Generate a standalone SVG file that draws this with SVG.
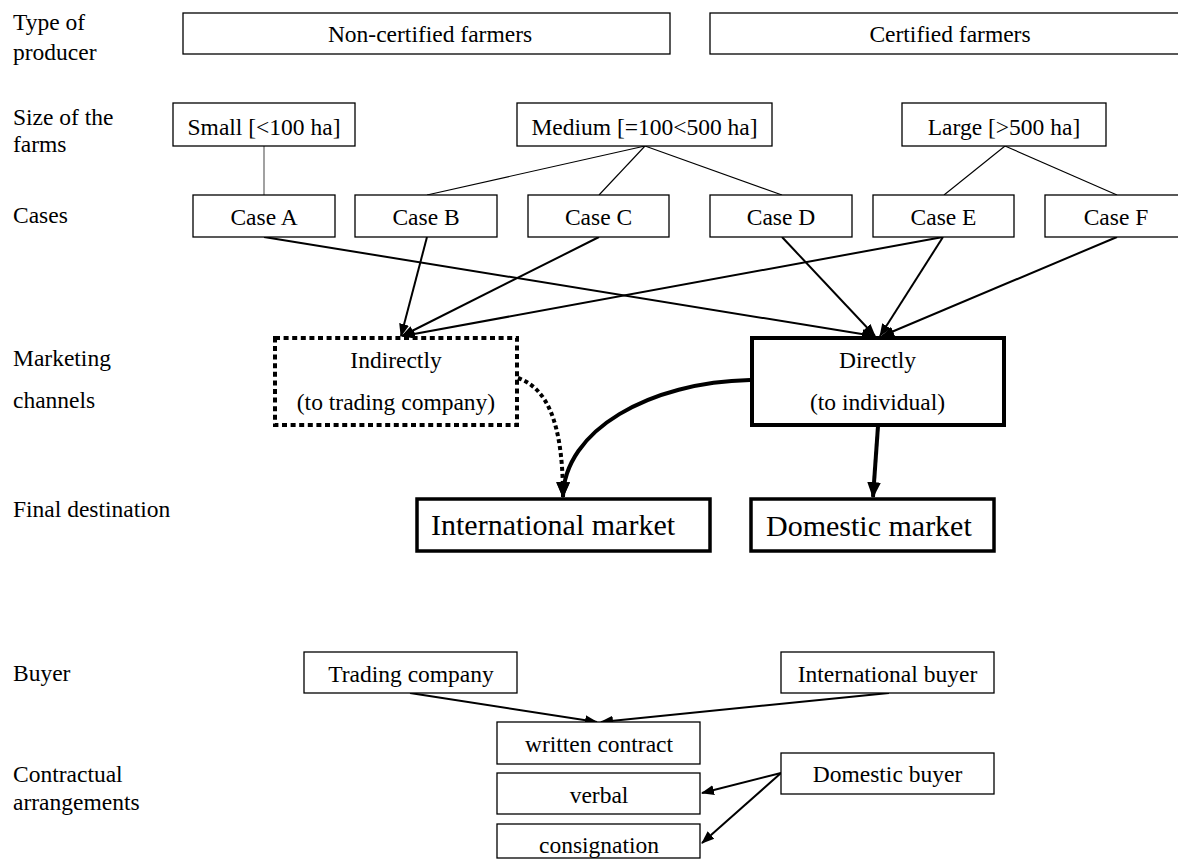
<svg xmlns="http://www.w3.org/2000/svg" width="1178" height="861" viewBox="0 0 1178 861">
<style>
text{font-family:"Liberation Serif","Times New Roman",serif;font-size:23.5px;fill:#000}
.c{text-anchor:middle}
.big{font-size:30px}
.box{fill:#fff;stroke:#000;stroke-width:1.3}
.thick{fill:#fff;stroke:#000;stroke-width:4}
.dot{fill:#fff;stroke:#000;stroke-width:4;stroke-dasharray:5 3.6}
.tree{fill:none;stroke:#000;stroke-width:1.1}
.arr{fill:none;stroke:#000;stroke-width:2;marker-end:url(#ah)}
.arrb{fill:none;stroke:#000;stroke-width:4;marker-end:url(#ahb)}
</style>
<defs>
<marker id="ah" markerUnits="userSpaceOnUse" markerWidth="14" markerHeight="12" refX="12" refY="5" orient="auto" viewBox="0 0 14 10">
<path d="M0,0 L13,5 L0,10 z" fill="#000"/>
</marker>
<marker id="ahb" markerUnits="userSpaceOnUse" markerWidth="16" markerHeight="14" refX="13" refY="6" orient="auto" viewBox="0 0 14 12">
<path d="M0,0 L14,6 L0,12 z" fill="#000"/>
</marker>
</defs>
<rect width="1178" height="861" fill="#fff"/>

<g id="row-labels">
<text x="13" y="30">Type of</text>
<text x="13" y="60">producer</text>
<text x="13" y="125">Size of the</text>
<text x="13" y="152">farms</text>
<text x="13" y="223">Cases</text>
<text x="13" y="366">Marketing</text>
<text x="13" y="408">channels</text>
<text x="13" y="517">Final destination</text>
<text x="13" y="681">Buyer</text>
<text x="13" y="782">Contractual</text>
<text x="13" y="810">arrangements</text>
</g>

<g id="connectors">
<line class="tree" x1="264" y1="146" x2="264" y2="195" stroke="#555" style="stroke:#555"/>
<line class="tree" x1="645" y1="146" x2="427" y2="195"/>
<line class="tree" x1="645" y1="146" x2="599" y2="195"/>
<line class="tree" x1="645" y1="146" x2="782" y2="195"/>
<line class="tree" x1="1005" y1="146" x2="944" y2="195"/>
<line class="tree" x1="1005" y1="146" x2="1117" y2="195"/>
<line class="arr" x1="264" y1="237" x2="874" y2="336"/>
<line class="arr" x1="427" y1="237" x2="401" y2="336"/>
<line class="arr" x1="599" y1="237" x2="402" y2="336"/>
<line class="arr" x1="943" y1="237" x2="403" y2="336"/>
<line class="arr" x1="782" y1="237" x2="875" y2="336"/>
<line class="arr" x1="943" y1="237" x2="880" y2="336"/>
<line class="arr" x1="1117" y1="237" x2="882" y2="336"/>
<path d="M518,378 C546,388 563,420 563,497" fill="none" stroke="#000" stroke-width="4" stroke-dasharray="4 3" marker-end="url(#ahb)"/>
<path class="arrb" d="M750,380 C650,382 564,430 563,497"/>
<line class="arrb" x1="878" y1="426" x2="873" y2="497"/>
<line class="arr" x1="410" y1="693" x2="597" y2="722"/>
<line class="arr" x1="889" y1="693" x2="601" y2="722"/>
<line class="arr" x1="781" y1="773" x2="702" y2="793"/>
<line class="arr" x1="781" y1="773" x2="702" y2="843"/>
</g>

<g id="non-certified"><rect class="box" x="183" y="13" width="487" height="41"/><text class="c" x="430" y="42">Non-certified farmers</text></g>
<g id="certified"><rect class="box" x="710" y="13" width="480" height="41"/><text class="c" x="950" y="42">Certified farmers</text></g>

<g id="small"><rect class="box" x="173" y="103" width="182" height="43"/><text class="c" x="264" y="135">Small [&lt;100 ha]</text></g>
<g id="medium"><rect class="box" x="517" y="103" width="255" height="43"/><text class="c" x="644.5" y="135">Medium [=100&lt;500 ha]</text></g>
<g id="large"><rect class="box" x="902" y="103" width="204" height="43"/><text class="c" x="1004" y="135">Large [&gt;500 ha]</text></g>

<g id="case-a"><rect class="box" x="193" y="195" width="142" height="42"/><text class="c" x="264" y="225">Case A</text></g>
<g id="case-b"><rect class="box" x="355" y="195" width="142" height="42"/><text class="c" x="426" y="225">Case B</text></g>
<g id="case-c"><rect class="box" x="528" y="195" width="141" height="42"/><text class="c" x="598.5" y="225">Case C</text></g>
<g id="case-d"><rect class="box" x="710" y="195" width="142" height="42"/><text class="c" x="781" y="225">Case D</text></g>
<g id="case-e"><rect class="box" x="873" y="195" width="141" height="42"/><text class="c" x="943.5" y="225">Case E</text></g>
<g id="case-f"><rect class="box" x="1045" y="195" width="142" height="42"/><text class="c" x="1116" y="225">Case F</text></g>

<g id="indirectly"><rect class="dot" x="275" y="338" width="242" height="87"/><text class="c" x="396" y="368">Indirectly</text><text class="c" x="396" y="410">(to trading company)</text></g>
<g id="directly"><rect class="thick" x="752" y="338" width="252" height="87"/><text class="c" x="877.5" y="368">Directly</text><text class="c" x="877.5" y="410">(to individual)</text></g>

<g id="international-market"><rect class="thick" x="417" y="499" width="293" height="52" style="stroke-width:3.5"/><text class="big" x="431" y="535">International market</text></g>
<g id="domestic-market"><rect class="thick" x="751" y="499" width="243" height="52" style="stroke-width:3.5"/><text class="big" x="766" y="536">Domestic market</text></g>

<g id="trading-company"><rect class="box" x="304" y="652" width="213" height="41"/><text class="c" x="411" y="682">Trading company</text></g>
<g id="international-buyer"><rect class="box" x="781" y="652" width="213" height="41"/><text class="c" x="887.5" y="682">International buyer</text></g>
<g id="written-contract"><rect class="box" x="497" y="722" width="203" height="42"/><text class="c" x="599" y="752">written contract</text></g>
<g id="verbal"><rect class="box" x="497" y="773" width="203" height="41"/><text class="c" x="599" y="803">verbal</text></g>
<g id="consignation"><rect class="box" x="497" y="824" width="203" height="34"/><text class="c" x="599" y="853">consignation</text></g>
<g id="domestic-buyer"><rect class="box" x="781" y="753" width="213" height="41"/><text class="c" x="887.5" y="782">Domestic buyer</text></g>
</svg>
